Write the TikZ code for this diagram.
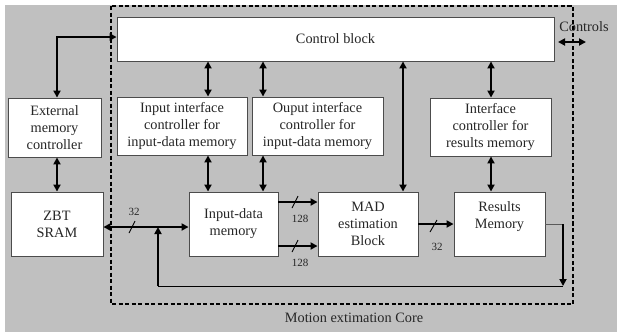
\documentclass[tikz,border=0pt]{standalone}
\usepackage{fontspec}
\setmainfont{Liberation Serif}
\usetikzlibrary{arrows.meta}
\definecolor{bggray}{HTML}{C0C0C0}
\begin{document}
\begin{tikzpicture}[x=1bp,y=-1bp,
  blk/.style={draw=black!70, line width=0.9bp, fill=white, inner sep=0pt, align=center,
    font=\fontsize{14.3bp}{17bp}\selectfont, text=black!85},
  txt/.style={inner sep=0pt, font=\fontsize{14.3bp}{17bp}\selectfont, text=black!85},
  lbl/.style={inner sep=0pt, font=\fontsize{11bp}{13bp}\selectfont, text=black!85},
  tip/.tip={Triangle[length=7bp,width=7bp]},
  dbl/.style={line width=1.8bp, tip-tip},
  sgl/.style={line width=1.8bp, -tip},
  plain/.style={line width=1.8bp},
  thinl/.style={line width=1bp},
  slash/.style={line width=0.9bp},
  core/.style={line width=1.8bp, dash pattern=on 4bp off 2.5bp}
]
\useasboundingbox (0,0) rectangle (617,332);
\fill[bggray] (5,5) rectangle (617,332);

% dashed core boundary
\draw[core] (111,6) rectangle (573,304);
\node[txt] (corelbl) at (354,318) {Motion extimation Core};

% blocks
\node[blk, minimum width=437bp, minimum height=44bp] (ctrl) at (335.5,39) {Control block};
\node[blk, minimum width=93bp, minimum height=59bp] (ext) at (54.5,127.5) {External\\memory\\controller};
\node[blk, minimum width=130bp, minimum height=58bp] (iic) at (182,126) {Input interface\\controller for\\input-data memory};
\node[blk, minimum width=131bp, minimum height=58bp] (oic) at (317.5,126) {Ouput interface\\controller for\\input-data memory};
\node[blk, minimum width=121bp, minimum height=58bp] (ric) at (490.5,127) {Interface\\controller for\\results memory};
\node[blk, minimum width=92bp, minimum height=64bp] (zbt) at (57,224) {ZBT\\SRAM};
\node[blk, minimum width=89bp, minimum height=64bp] (idm) at (233.5,224) {Input-data\\memory};
\node[blk, minimum width=100bp, minimum height=64bp] (mad) at (368,224) {MAD\\estimation\\Block};
\node[blk, minimum width=91bp, minimum height=64bp] (res) at (499.5,224) {Results\\Memory\\~};

% helper coordinates
\coordinate (c1) at (208,0);
\coordinate (c2) at (263,0);
\coordinate (c3) at (403,0);
\coordinate (c4) at (491,0);
\coordinate (busy) at (0,227);
\coordinate (r1) at (0,202);
\coordinate (r2) at (0,246);
\coordinate (fbr) at (563,286);
\coordinate (fbl) at (158,286);
\coordinate (ctlin) at (558,42);
\coordinate (ctlout) at (586,42);

% connectors
\draw[dbl] (zbt.north |- ext.north) |- ([yshift=2bp]ctrl.west);
\draw[dbl] (zbt.north |- ext.south) -- (zbt.north);
\draw[dbl] (ctrl.south -| c1) -- (iic.north -| c1);
\draw[dbl] (ctrl.south -| c2) -- (oic.north -| c2);
\draw[dbl] (ctrl.south -| c4) -- (ric.north -| c4);
\draw[dbl] (ctrl.south -| c3) -- (mad.north -| c3);
\draw[dbl] (iic.south -| c1) -- (idm.north -| c1);
\draw[dbl] (oic.south -| c2) -- (idm.north -| c2);
\draw[dbl] (ric.south -| c4) -- (res.north -| c4);
\draw[dbl] (ctlin) -- (ctlout);
\node[txt] (ctltxt) at (584,27) {Controls};

% data bus ZBT <-> input-data memory
\draw[dbl] (zbt.east |- busy) -- (idm.west |- busy);
\draw[slash] (129,233) -- (135,221);
\node[lbl] (b32) at (134,212) {32};

% input-data memory -> MAD
\draw[sgl] (idm.east |- r1) -- (mad.west |- r1);
\draw[slash] (292,208) -- (298,196);
\node[lbl] (b128a) at (300,219) {128};
\draw[sgl] (idm.east |- r2) -- (mad.west |- r2);
\draw[slash] (292,252) -- (298,240);
\node[lbl] (b128b) at (300,263) {128};

% MAD -> results memory
\draw[sgl] (mad.east) -- (res.west);
\draw[slash] (430,232) -- (437,220);
\node[lbl] (b32b) at (437,247) {32};

% feedback path
\draw[thinl, black!65] (res.east) -- (res.east -| fbr);
\draw[sgl] (res.east -| fbr) -- (fbr);
\draw[thinl] (fbr) -- (fbl);
\draw[sgl] (fbl) -- (fbl |- busy);
\end{tikzpicture}
\end{document}
